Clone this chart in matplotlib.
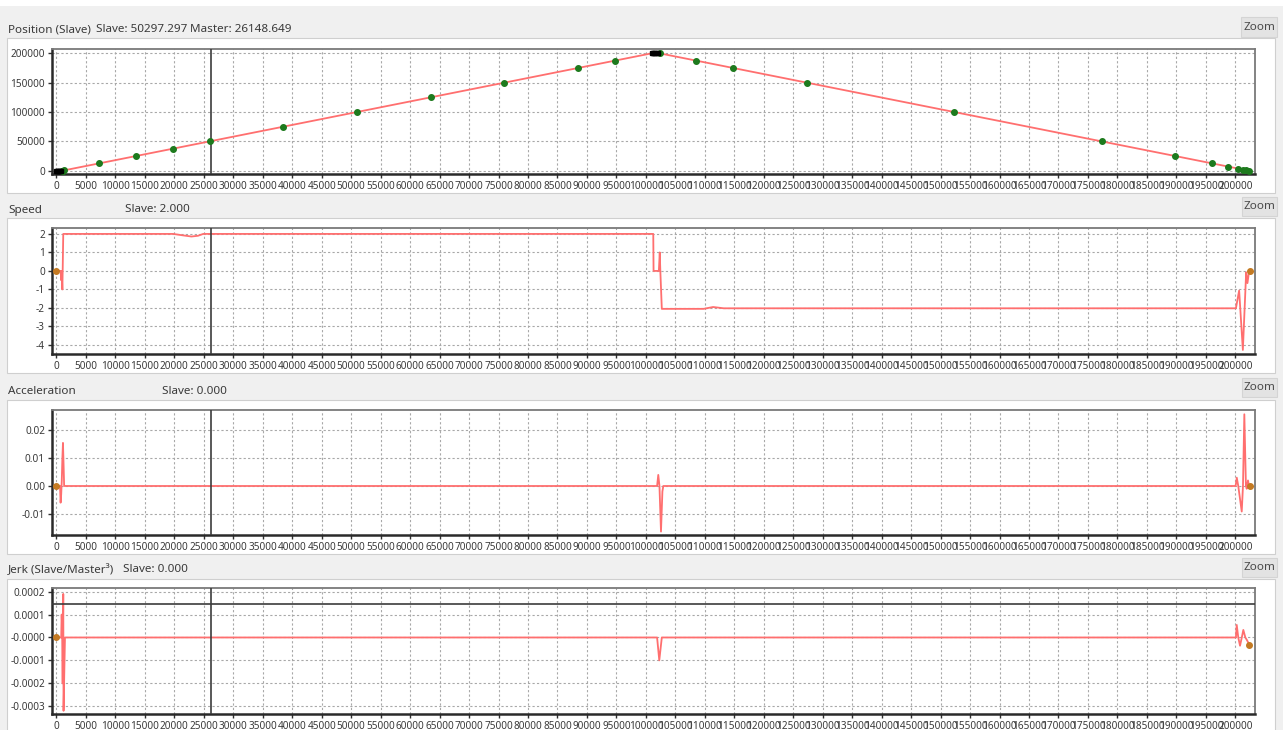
import matplotlib
matplotlib.use("Agg")
import matplotlib.pyplot as plt
from matplotlib.patches import Rectangle
from matplotlib.ticker import FixedLocator, FixedFormatter, FuncFormatter

plt.rcParams['font.family'] = ['Noto Sans', 'DejaVu Sans']

W, H = 1283, 730

# ---------------- motion profile data (master axis -> slave quantities) ----------------
cursor_master = 26148.649
cursor_slave = 50297.297

pos_master = [0, 1000, 101000, 102300, 202300]
pos_slave = [0, 0, 200000, 200000, 0]

cam_master = [900, 1100, 1300, 7250, 13500, 19750, 26000, 38500, 51000, 63500, 76000,
              88500, 94750, 102350, 108550, 114800, 127300, 152300, 177300, 189800,
              196050, 198750, 200450, 201350, 201800, 202300]
cam_slave = [0, 200, 600, 12500, 25000, 37500, 50000, 75000, 100000, 125000, 150000,
             175000, 187500, 200000, 187500, 175000, 150000, 100000, 50000, 25000,
             12500, 7100, 3700, 1900, 1000, 0]

knot_master = [0, 150, 300, 450, 600, 750, 101000, 101200, 101400, 101600, 101800, 102000]
knot_slave = [0, 0, 0, 0, 0, 0, 200000, 200000, 200000, 200000, 200000, 200000]

spd_master = [0, 700, 800, 880, 1000, 1150, 19800, 21500, 22900, 24000, 24900,
              101250, 101300, 102200, 102350, 102450, 102700, 109800, 111400, 113200,
              133500, 200100, 200650, 201280, 201840, 202060, 202300, 202520]
spd_slave = [0, 0, -0.5, 0, -1.0, 2.0, 2.0, 1.92, 1.86, 1.9, 2.0,
             2.0, 0, 0, 1.0, 0, -2.05, -2.05, -1.95, -2.02,
             -2.02, -2.02, -1.06, -4.27, -0.07, -0.66, -0.1, 0]

acc_master = [0, 600, 700, 800, 900, 1000, 1100, 1200, 1300, 1400,
              101900, 102100, 102300, 102560, 102800, 102950,
              200050, 200250, 200500, 201090, 201300, 201530, 201800, 201940, 202150, 202330, 202500]
acc_slave = [0, 0, -0.006, -0.003, 0.002, 0.010, 0.0155, 0.008, 0.0, 0.0,
             0, 0.004, 0.0, -0.0164, -0.002, 0,
             0, 0.003, 0.0, -0.0092, 0.0, 0.0258, 0.0, -0.001, 0.002, 0.0, 0.0]

jerk_master = [0, 800, 880, 950, 1050, 1150, 1200, 1440, 101900, 102270, 102700,
               200100, 200240, 200500, 200800, 201100, 201360, 201700, 201940, 202150, 202380]
jerk_slave = [0, 0, 0.0001, 0.00005, -0.0002, 0.00019, -0.00032, 0, 0, -0.0001, 0,
              0, 0.000055, 0.0, -0.000036, 0.0, 0.000033, 0.0, -0.00001, -0.00002, -0.000033]
jerk_limit = 0.000145

end_spd = ([0, 202520], [0, 0])
end_acc = ([0, 202500], [0, 0])
end_jerk = ([0, 202380], [0, -0.000033])

x_ticks = list(range(0, 200001, 5000))
pos_yticks = [0, 50000, 100000, 150000, 200000]
spd_yticks = [-4, -3, -2, -1, 0, 1, 2]
acc_yticks = [-0.01, 0.0, 0.01, 0.02]
acc_ylabels = ["-0.01", "0.00", "0.01", "0.02"]
jerk_yticks = [-0.0003, -0.0002, -0.0001, 0.0, 0.0001, 0.0002]
jerk_ylabels = ["-0.0003", "-0.0002", "-0.0001", "-0.0000", "0.0001", "0.0002"]

# ---------------- styling ----------------
BG = '#f0f0f0'
RED = '#ff6f6f'
GREEN = '#1d7a1d'
ORANGE = '#c47a22'
TXT = '#3a3a3a'
TICK_FS = 7.2
HEAD_FS = 8.4

fig = plt.figure(figsize=(W / 100, H / 100), dpi=100, facecolor=BG)


def fx(px):
    return px / W


def fy(py):
    return 1 - py / H


def rect(x0, y0, x1, y1, fc, ec='none', lw=0.0):
    fig.patches.append(Rectangle((fx(x0), fy(y1)), fx(x1) - fx(x0), fy(y0) - fy(y1),
                                 transform=fig.transFigure, facecolor=fc,
                                 edgecolor=ec, linewidth=lw, zorder=-5))


rect(0, 0, W, 6, 'white')

panels = [
    dict(white=(7, 38, 1275, 193), ax=(52, 49, 1255, 174), head_y=30, zoom=(1241, 17, 1277, 37),
         heads=[(8, "Position (Slave)"), (96, f"Slave: {cursor_slave:.3f}"), (190, f"Master: {cursor_master:.3f}")]),
    dict(white=(7, 218, 1275, 373), ax=(52, 228, 1255, 354), head_y=210, zoom=(1242, 197, 1277, 216),
         heads=[(8, "Speed"), (125, "Slave: 2.000")]),
    dict(white=(7, 400, 1275, 554), ax=(52, 410, 1255, 535), head_y=391, zoom=(1242, 378, 1277, 397),
         heads=[(8, "Acceleration"), (162, "Slave: 0.000")]),
    dict(white=(7, 579, 1275, 732), ax=(52, 588, 1255, 714), head_y=570, zoom=(1242, 558, 1277, 577),
         heads=[(8, "Jerk (Slave/Master³)"), (123, "Slave: 0.000")]),
]

axes = []
for p in panels:
    x0, y0, x1, y1 = p['white']
    rect(x0, y0, x1, y1, 'white', ec='#cfcfcf', lw=0.8)
    bx0, by0, bx1, by1 = p['zoom']
    rect(bx0, by0, bx1, by1, '#e3e3e3', ec='#d4d4d4', lw=0.8)
    fig.text(fx((bx0 + bx1) / 2), fy((by0 + by1) / 2), "Zoom", ha='center', va='center',
             fontsize=HEAD_FS, color='#4a4a4a')
    for hx, s in p['heads']:
        fig.text(fx(hx), fy(p['head_y']), s, ha='left', va='center', fontsize=HEAD_FS, color=TXT)
    a0, b0, a1, b1 = p['ax']
    ax = fig.add_axes([fx(a0), fy(b1), fx(a1) - fx(a0), fy(b0) - fy(b1)])
    ax.set_zorder(2)
    ax.set_facecolor('white')
    ax.set_xlim(-760, 203340)
    ax.xaxis.set_major_locator(FixedLocator(x_ticks))
    ax.xaxis.set_major_formatter(FuncFormatter(lambda v, _: f"{int(round(v))}"))
    ax.grid(True, which='major', color='#a8a8a8', linestyle=(0, (2, 2)), linewidth=0.8)
    ax.set_axisbelow(True)
    ax.tick_params(axis='both', direction='out', length=3, width=1, colors='#303030',
                   labelsize=TICK_FS, labelcolor=TXT, pad=2)
    for side in ('left', 'bottom'):
        ax.spines[side].set_color('#2a2a2a')
        ax.spines[side].set_linewidth(1.8)
    for side in ('top', 'right'):
        ax.spines[side].set_color('#7a7a7a')
        ax.spines[side].set_linewidth(1.3)
    ax.axvline(cursor_master, color='#3c3c3c', lw=1.2, zorder=4)
    axes.append(ax)

ax_pos, ax_spd, ax_acc, ax_jerk = axes

# position
ax_pos.set_ylim(-5620, 207330)
ax_pos.yaxis.set_major_locator(FixedLocator(pos_yticks))
ax_pos.yaxis.set_major_formatter(FuncFormatter(lambda v, _: f"{int(round(v))}"))
ax_pos.plot(pos_master, pos_slave, color=RED, lw=1.3, zorder=3)
ax_pos.plot(cam_master, cam_slave, 'o', color=GREEN, ms=4, zorder=5)
ax_pos.plot(knot_master, knot_slave, 's', color='black', ms=3.5, zorder=6)

# speed
ax_spd.set_ylim(-4.49, 2.32)
ax_spd.yaxis.set_major_locator(FixedLocator(spd_yticks))
ax_spd.yaxis.set_major_formatter(FuncFormatter(lambda v, _: f"{int(round(v))}"))
ax_spd.plot(spd_master, spd_slave, color=RED, lw=1.3, zorder=3)
ax_spd.plot(*end_spd, 'o', color=ORANGE, ms=4, zorder=5)

# acceleration
ax_acc.set_ylim(-0.01763, 0.02734)
ax_acc.yaxis.set_major_locator(FixedLocator(acc_yticks))
ax_acc.yaxis.set_major_formatter(FixedFormatter(acc_ylabels))
ax_acc.plot(acc_master, acc_slave, color=RED, lw=1.3, zorder=3)
ax_acc.plot(*end_acc, 'o', color=ORANGE, ms=4, zorder=5)

# jerk
ax_jerk.set_ylim(-0.000334, 0.000216)
ax_jerk.yaxis.set_major_locator(FixedLocator(jerk_yticks))
ax_jerk.yaxis.set_major_formatter(FixedFormatter(jerk_ylabels))
ax_jerk.axhline(jerk_limit, color='#3c3c3c', lw=1.2, zorder=4)
ax_jerk.plot(jerk_master, jerk_slave, color=RED, lw=1.3, zorder=3)
ax_jerk.plot(*end_jerk, 'o', color=ORANGE, ms=4, zorder=5)

fig.savefig("out.png", dpi=100, facecolor=BG)
